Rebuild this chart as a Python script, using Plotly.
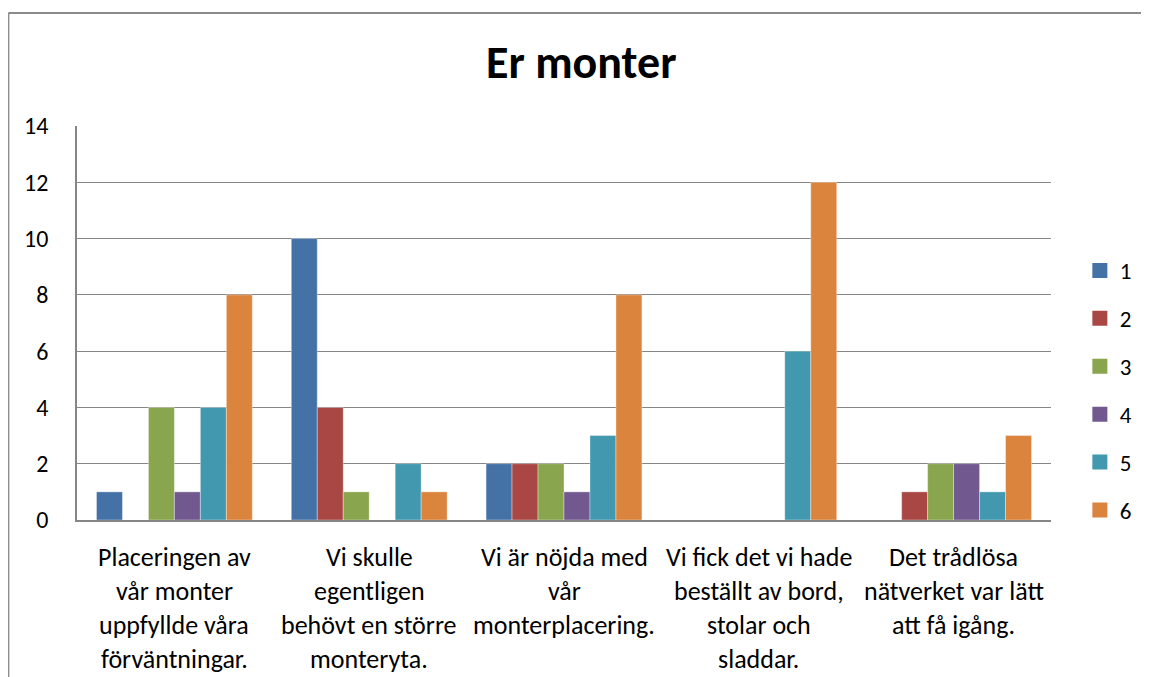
import plotly.graph_objects as go

title = "Er monter"
categories = [
    "Placeringen av<br>vår monter<br>uppfyllde våra<br>förväntningar.",
    "Vi skulle<br>egentligen<br>behövt en större<br>monteryta.",
    "Vi är nöjda med<br>vår<br>monterplacering.",
    "Vi fick det vi hade<br>beställt av bord,<br>stolar och<br>sladdar.",
    "Det trådlösa<br>nätverket var lätt<br>att få igång.",
]
series_names = ["1", "2", "3", "4", "5", "6"]
s1 = [1, 10, 2, 0, 0]
s2 = [0, 4, 2, 0, 1]
s3 = [4, 1, 2, 0, 2]
s4 = [1, 0, 1, 0, 2]
s5 = [4, 2, 3, 6, 1]
s6 = [8, 1, 8, 12, 3]
series_values = [s1, s2, s3, s4, s5, s6]
colors = ["#4472A7", "#A94744", "#89A54E", "#71588F", "#4198AF", "#DB843D"]
y_ticks = [0, 2, 4, 6, 8, 10, 12, 14]

FONT = "Carlito, Calibri, Lato, sans-serif"
OFF = 8  # page body margin
W, H = 1149 - OFF, 677 - OFF
# plot area in reference-picture pixels
L, R, T, B = 77, 1056, 126, 520

def px_x(px):
    return (px - L) / (R - L)

def px_y(py):
    return (B - py) / (B - T)

fig = go.Figure()
for i, (name, vals) in enumerate(zip(series_names, series_values)):
    fig.add_trace(go.Bar(
        name=name, x=categories, y=vals,
        marker=dict(color=colors[i], line=dict(width=0.6, color="rgba(255,255,255,0.6)")),
        legendgroup=name, showlegend=False,
    ))
# legend entries with square swatches
for i, name in enumerate(series_names):
    fig.add_trace(go.Scatter(
        name=name, x=[None], y=[None], mode="markers",
        marker=dict(symbol="square", size=15, color=colors[i]),
        legendgroup=name, showlegend=True, hoverinfo="skip",
    ))

annotations = []
annotations.append(dict(
    text="<b>" + title + "</b>", x=px_x(584), y=px_y(62), xref="paper", yref="paper",
    xanchor="center", yanchor="middle", showarrow=False,
    font=dict(family=FONT, size=46, color="#000000"),
))
for cat in categories:
    for j, line in enumerate(cat.split("<br>")):
        annotations.append(dict(
            text=line, x=cat, xref="x", y=0, yref="y",
            xanchor="center", yanchor="middle", yshift=-(37 + 34 * j),
            showarrow=False, font=dict(family=FONT, size=26, color="#000000"),
        ))

border = "#8C8C8C"
shapes = [
    dict(type="line", xref="paper", yref="paper", x0=px_x(8), x1=px_x(1160),
         y0=px_y(13), y1=px_y(13), line=dict(color=border, width=2)),
    dict(type="line", xref="paper", yref="paper", x0=px_x(8), x1=px_x(8),
         y0=px_y(13), y1=px_y(690), line=dict(color=border, width=2)),
]

fig.update_layout(
    width=W, height=H,
    margin=dict(l=L - OFF, r=(W + OFF) - R, t=T - OFF, b=(H + OFF) - B, pad=0),
    paper_bgcolor="white", plot_bgcolor="white",
    barmode="group", bargap=0.2, bargroupgap=0,
    font=dict(family=FONT, size=24, color="#000000"),
    showlegend=True,
    legend=dict(
        x=px_x(1085), y=px_y(249), xanchor="left", yanchor="top",
        font=dict(family=FONT, size=23, color="#000000"),
        tracegroupgap=15, bgcolor="rgba(0,0,0,0)",
    ),
    annotations=annotations,
    shapes=shapes,
)
fig.update_xaxes(showticklabels=False, showgrid=False, zeroline=False,
                 showline=True, linecolor="#868686", linewidth=1.5, ticks="")
fig.update_yaxes(range=[0, 14], tickvals=y_ticks, ticktext=[str(v) for v in y_ticks],
                 showgrid=True, gridcolor="#868686", gridwidth=1.3,
                 zeroline=False, showline=True, linecolor="#868686", linewidth=1.5,
                 ticks="", ticklabelstandoff=22, tickfont=dict(family=FONT, size=24))

fig.write_html("out.html")
